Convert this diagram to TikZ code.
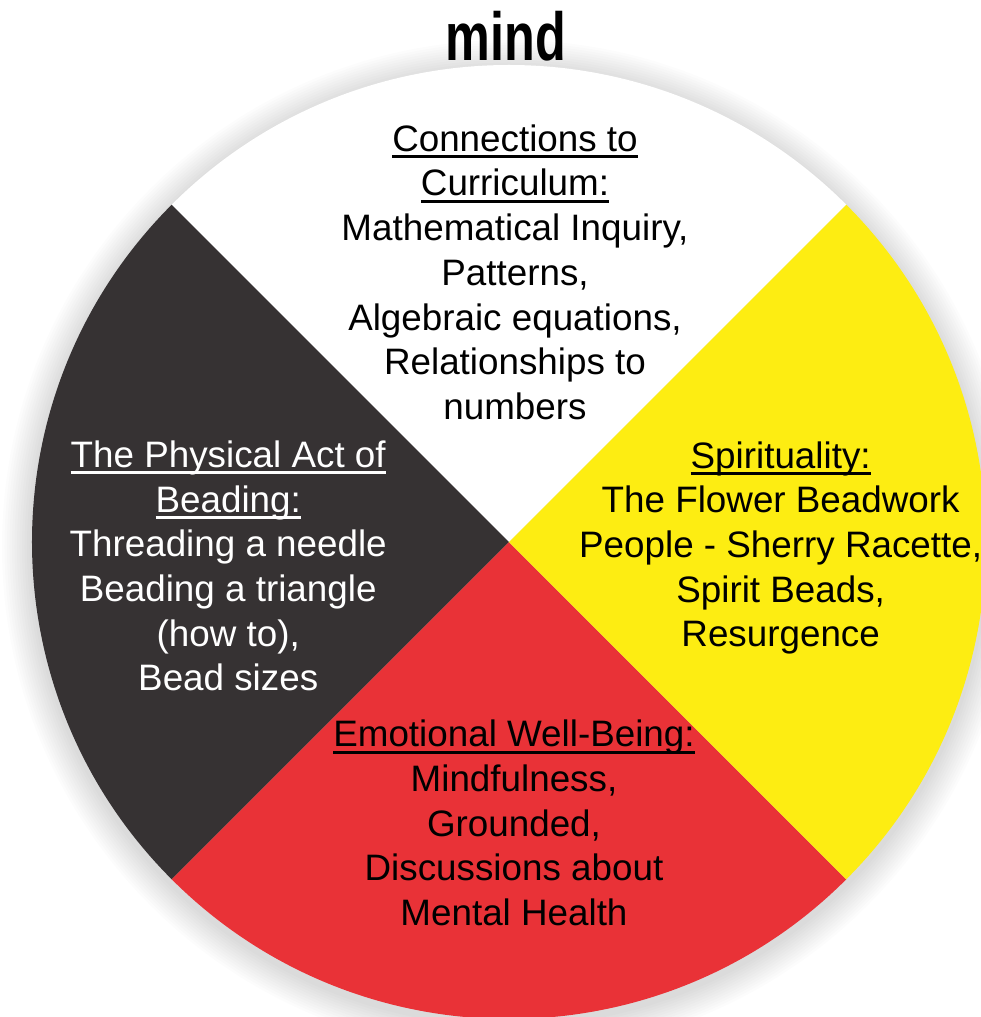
\documentclass[tikz,border=0pt]{standalone}
\usepackage{fontspec}
\setmainfont{Liberation Sans}
\usetikzlibrary{positioning}
\definecolor{wheelwhite}{RGB}{255,255,255}
\definecolor{wheeldark}{RGB}{54,50,51}
\definecolor{wheelred}{RGB}{233,50,55}
\definecolor{wheelyellow}{RGB}{253,237,18}
\newsavebox\ulbox
\newcommand\wul[1]{\sbox\ulbox{#1}\rlap{\rule[-0.19em]{\wd\ulbox}{0.08em}}\usebox\ulbox}
\tikzset{
    wheeltext/.style={align=center,inner sep=0pt,font=\fontsize{36.8pt}{44.7pt}\selectfont},
    darktext/.style={wheeltext,text=black},
    lighttext/.style={wheeltext,text=white},
    wheeltitle/.style={inner sep=0pt,xscale=0.74,font=\fontsize{68pt}{68pt}\selectfont\bfseries}
}

\begin{document}
\begin{tikzpicture}
    \useasboundingbox (-509pt,-475pt) rectangle (471pt,542pt);
    \coordinate (hub) at (0,0);

    % soft shadow round the wheel
    \foreach \k in {1,...,12}
        \fill[black,opacity=0.013] ([yshift=-5pt]hub) circle (477pt+\k*2.5pt);

    % the four quarters
    \foreach \a/\col in {45/wheelwhite,135/wheeldark,225/wheelred,-45/wheelyellow}
        \fill[\col] (hub) -- ++(\a:477pt) arc[start angle=\a,delta angle=90,radius=477pt] -- cycle;

    \node[wheeltitle] (mindtitle) [above=481pt of hub,xshift=-4pt] {mind};

    \node[darktext]  (mindtext)   [above=122pt of hub,xshift=6pt]
        {\wul{Connections to}\\\wul{Curriculum:}\\Mathematical Inquiry,\\Patterns,\\Algebraic equations,\\Relationships to\\numbers};
    \node[lighttext] (bodytext)   [left=122pt of hub,yshift=-24pt]
        {\wul{The Physical Act of}\\\wul{Beading:}\\Threading a needle\\Beading a triangle\\(how to),\\Bead sizes};
    \node[darktext]  (spirittext) [right=70pt of hub,yshift=-6pt]
        {\wul{Spirituality:}\\The Flower Beadwork\\People - Sherry Racette,\\Spirit Beads,\\Resurgence};
    \node[darktext]  (hearttext)  [below=178pt of hub,xshift=5pt]
        {\wul{Emotional Well-Being:}\\Mindfulness,\\Grounded,\\Discussions about\\Mental Health};
\end{tikzpicture}
\end{document}
